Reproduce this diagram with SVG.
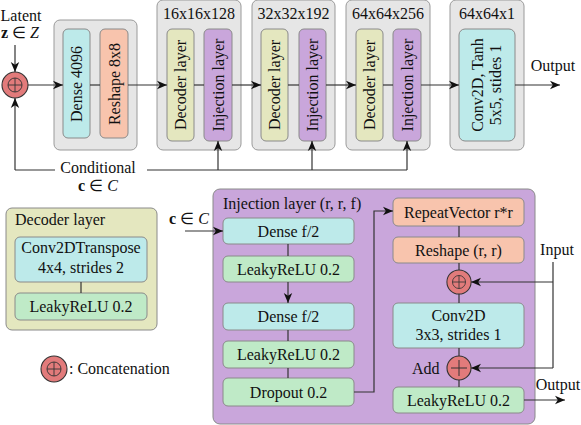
<svg xmlns="http://www.w3.org/2000/svg" width="581" height="425" viewBox="0 0 581 425">
<defs>
<marker id="arr" viewBox="0 0 10 10" refX="10" refY="5" markerWidth="10" markerHeight="10" markerUnits="userSpaceOnUse" orient="auto">
<path d="M0,0.8 L10,5 L0,9.2 L2.8,5 Z" fill="#111"/>
</marker>
<g id="concat-sym">
<circle r="13" fill="#e27b7b" stroke="#333" stroke-width="1.1"/>
<circle r="7" fill="none" stroke="#333" stroke-width="0.9"/>
<path d="M-7,0 H7 M0,-7 V7" stroke="#333" stroke-width="0.9"/>
</g>
</defs>
<style>
text{font-family:'Liberation Serif','Times New Roman',serif;font-size:16px;fill:#111}
.blk{fill:#e6e6e6;stroke:#9a9a9a;stroke-width:1}
.cy{fill:#bdeaea;stroke:#8a8a8a;stroke-width:1}
.sa{fill:#f8c4ad;stroke:#8a8a8a;stroke-width:1}
.ol{fill:#e4e7bf;stroke:#8a8a8a;stroke-width:1}
.pu{fill:#c9a6db;stroke:#8a8a8a;stroke-width:1}
.gr{fill:#bfeac7;stroke:#8a8a8a;stroke-width:1}
.mid{text-anchor:middle}
.ln{fill:none;stroke:#333;stroke-width:1.2}
.la{fill:none;stroke:#333;stroke-width:1.2;marker-end:url(#arr)}
</style>
<rect width="581" height="425" fill="#fff"/>

<!-- Top labels -->
<g id="latent">
<text x="21" y="21" class="mid" font-size="15">Latent</text>
<text x="20" y="38" class="mid" font-size="15"><tspan font-weight="bold">z</tspan> ∈ <tspan font-style="italic">Z</tspan></text>
</g>
<g id="concat-top"><use href="#concat-sym" x="15" y="85"/></g>

<g id="block1">
<rect class="blk" x="54" y="20" width="83" height="130" rx="6"/>
<rect class="cy" x="63" y="29" width="27" height="109" rx="5"/>
<rect class="sa" x="100" y="29" width="28" height="109" rx="5"/>
<text class="mid" transform="translate(76.5,84) rotate(-90)" y="5.5">Dense 4096</text>
<text class="mid" transform="translate(114,84) rotate(-90)" y="5.5">Reshape 8x8</text>
</g>
<g id="block2">
<rect class="blk" x="157" y="0" width="84" height="150" rx="6"/>
<text class="mid" x="199" y="19">16x16x128</text>
<rect class="ol" x="167" y="29" width="27" height="112" rx="5"/>
<rect class="pu" x="204" y="29" width="28" height="112" rx="5"/>
<text class="mid" transform="translate(180.5,85) rotate(-90)" y="5.5">Decoder layer</text>
<text class="mid" transform="translate(218,85) rotate(-90)" y="5.5">Injection layer</text>
</g>
<g id="block3">
<rect class="blk" x="252" y="0" width="83" height="150" rx="6"/>
<text class="mid" x="293.5" y="19">32x32x192</text>
<rect class="ol" x="261" y="29" width="27" height="112" rx="5"/>
<rect class="pu" x="299" y="29" width="27" height="112" rx="5"/>
<text class="mid" transform="translate(274.5,85) rotate(-90)" y="5.5">Decoder layer</text>
<text class="mid" transform="translate(312.5,85) rotate(-90)" y="5.5">Injection layer</text>
</g>
<g id="block4">
<rect class="blk" x="346" y="0" width="84" height="150" rx="6"/>
<text class="mid" x="388" y="19">64x64x256</text>
<rect class="ol" x="356" y="29" width="27" height="112" rx="5"/>
<rect class="pu" x="393" y="29" width="28" height="112" rx="5"/>
<text class="mid" transform="translate(369.5,85) rotate(-90)" y="5.5">Decoder layer</text>
<text class="mid" transform="translate(407,85) rotate(-90)" y="5.5">Injection layer</text>
</g>
<g id="block5">
<rect class="blk" x="450" y="0" width="74" height="150" rx="6"/>
<text class="mid" x="487" y="19">64x64x1</text>
<rect class="cy" x="459" y="29" width="56" height="112" rx="6"/>
<text class="mid" transform="translate(487,85) rotate(-90)" y="-4">Conv2D, Tanh</text>
<text class="mid" transform="translate(487,85) rotate(-90)" y="14">5x5, stides 1</text>
</g>
<g id="output-top"><text class="mid" x="553" y="71">Output</text></g>
<g id="conditional">
<text class="mid" x="98" y="173" font-size="15.5">Conditional</text>
<text class="mid" x="98" y="191" font-size="15.5"><tspan font-weight="bold">c</tspan> ∈ <tspan font-style="italic">C</tspan></text>
</g>

<!-- Decoder legend -->
<g id="decoder-legend">
<rect class="ol" x="6" y="208" width="151" height="122" rx="6"/>
<text x="15" y="225">Decoder layer</text>
<rect class="cy" x="15" y="237" width="132" height="45" rx="5"/>
<text class="mid" x="81" y="253">Conv2DTranspose</text>
<text class="mid" x="81" y="273">4x4, strides 2</text>
<rect class="gr" x="15" y="293" width="132" height="27" rx="5"/>
<text class="mid" x="81" y="312">LeakyReLU 0.2</text>
<line class="ln" x1="81" y1="282" x2="81" y2="293"/>
</g>
<g id="concat-legend">
<use href="#concat-sym" x="54" y="369"/>
<text x="69" y="374">: Concatenation</text>
</g>

<!-- Injection layer detail -->
<g id="injection-detail">
<rect class="pu" x="213" y="189" width="322" height="235" rx="7"/>
<text x="223" y="209">Injection layer  (r, r, f)</text>
</g>
<text x="189" y="224" class="mid"><tspan font-weight="bold">c</tspan> ∈ <tspan font-style="italic">C</tspan></text>
<g id="dense1"><rect class="cy" x="223" y="218" width="131" height="26" rx="5"/><text class="mid" x="288.5" y="236.5">Dense f/2</text></g>
<g id="leaky1"><rect class="gr" x="223" y="256" width="131" height="26" rx="5"/><text class="mid" x="288.5" y="274.5">LeakyReLU 0.2</text></g>
<g id="dense2"><rect class="cy" x="223" y="303" width="131" height="27" rx="5"/><text class="mid" x="288.5" y="322">Dense f/2</text></g>
<g id="leaky2"><rect class="gr" x="223" y="341" width="131" height="27" rx="5"/><text class="mid" x="288.5" y="360">LeakyReLU 0.2</text></g>
<g id="dropout"><rect class="gr" x="223" y="378" width="131" height="28" rx="5"/><text class="mid" x="288.5" y="397.5">Dropout 0.2</text></g>
<g id="repeat"><rect class="sa" x="393" y="198" width="131" height="28" rx="5"/><text class="mid" x="458.5" y="217.5">RepeatVector r*r</text></g>
<g id="reshape2"><rect class="sa" x="393" y="237" width="131" height="26" rx="5"/><text class="mid" x="458.5" y="255.5">Reshape (r, r)</text></g>
<g id="concat-inj"><use href="#concat-sym" transform="translate(459,282) scale(0.93)"/></g>
<g id="conv2d"><rect class="cy" x="393" y="303" width="131" height="45" rx="5"/><text class="mid" x="458.5" y="321">Conv2D</text><text class="mid" x="458.5" y="340">3x3, strides 1</text></g>
<g id="add">
<circle cx="459" cy="368" r="12" fill="#e27b7b" stroke="#333" stroke-width="1.1"/>
<path d="M451,368 H467 M459,360 V376" stroke="#333" stroke-width="1"/>
<text x="412" y="374">Add</text>
</g>
<g id="leaky3"><rect class="gr" x="393" y="387" width="131" height="26" rx="5"/><text class="mid" x="458.5" y="405.5">LeakyReLU 0.2</text></g>
<g id="io-labels">
<text class="mid" x="557" y="255">Input</text>
<text class="mid" x="558" y="390">Output</text>
</g>

<!-- Connectors -->
<g id="connectors">
<line class="la" x1="15" y1="45" x2="15" y2="72"/>
<line class="la" x1="15" y1="170" x2="15" y2="98"/>
<line class="la" x1="28" y1="85" x2="63" y2="85"/>
<line class="ln" x1="90" y1="85" x2="100" y2="85"/>
<line class="la" x1="128" y1="85" x2="167" y2="85"/>
<line class="ln" x1="194" y1="85" x2="204" y2="85"/>
<line class="la" x1="232" y1="85" x2="261" y2="85"/>
<line class="ln" x1="288" y1="85" x2="299" y2="85"/>
<line class="la" x1="326" y1="85" x2="356" y2="85"/>
<line class="ln" x1="383" y1="85" x2="393" y2="85"/>
<line class="la" x1="421" y1="85" x2="459" y2="85"/>
<line class="la" x1="515" y1="85" x2="560" y2="85"/>
<polyline class="ln" points="55,170 15,170"/>
<polyline class="ln" points="147,170 407,170"/>
<line class="la" x1="218" y1="170" x2="218" y2="141"/>
<line class="la" x1="312" y1="170" x2="312" y2="141"/>
<line class="la" x1="407" y1="170" x2="407" y2="141"/>

<line class="la" x1="185" y1="231" x2="223" y2="231"/>
<line class="ln" x1="288" y1="244" x2="288" y2="256"/>
<line class="la" x1="288" y1="282" x2="288" y2="303"/>
<line class="ln" x1="288" y1="330" x2="288" y2="341"/>
<line class="ln" x1="288" y1="368" x2="288" y2="378"/>
<polyline class="la" points="354,392 374,392 374,211 393,211"/>
<line class="ln" x1="459" y1="226" x2="459" y2="237"/>
<line class="ln" x1="459" y1="263" x2="459" y2="270"/>
<line class="ln" x1="459" y1="294" x2="459" y2="303"/>
<line class="ln" x1="459" y1="348" x2="459" y2="356"/>
<line class="ln" x1="459" y1="380" x2="459" y2="387"/>
<line class="ln" x1="553" y1="262" x2="553" y2="368"/>
<line class="la" x1="553" y1="282" x2="471" y2="282"/>
<line class="la" x1="553" y1="368" x2="471" y2="368"/>
<line class="la" x1="524" y1="400" x2="565" y2="400"/>
</g>
</svg>
